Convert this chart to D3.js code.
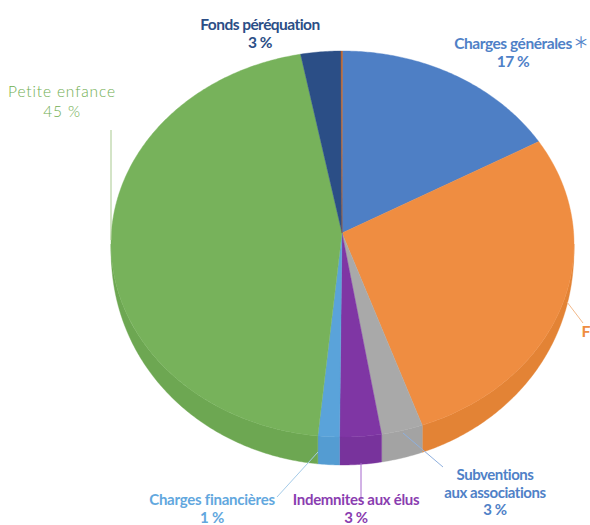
<!DOCTYPE html>
<html><head><meta charset="utf-8">
<script src="https://cdn.jsdelivr.net/npm/d3@7"></script>
<style>html,body{margin:0;padding:0;background:#fff;overflow:hidden}svg{display:block}</style>
</head><body><svg id="c" width="590" height="525"></svg>
<script>
// Data
const categories = ["Charges générales","Frais","Subventions aux associations","Indemnites aux élus","Charges financières","Petite enfance","Fonds péréquation","Autre"];
const shares = [16.1,28.3,2.9,2.9,1.5,45.4,2.8,0.1];
const faceColors = ["#4e7fc5","#ef8d41","#a9a9a9","#7f36a4","#5aa3da","#77b25b","#2b4e86","#b8602a"];
const sideColors = ["#4474b6","#e38335","#a3a3a3","#78339c","#549cd2","#6da752","#264676","#9c4f20"];

const labels = [
  {lines:["Charges générales","17 %"],x:513,y:[49,67],color:"#4f81c7",size:15.5,weight:700,ls:-.45},
  {lines:["Fonds péréquation","3 %"],x:260,y:[30,48],color:"#2b4e86",size:15.5,weight:700,ls:-.55},
  {lines:["Petite enfance","45 %"],x:62,y:[97,117],color:"#6fae50",size:15.5,weight:300,ls:.85},
  {lines:["Subventions","aux associations","3 %"],x:495,y:[480,498,515],color:"#4f81c7",size:15,weight:700,ls:-.45},
  {lines:["Charges financières","1 %"],x:212,y:[504.5,522.5],color:"#62a7de",size:15,weight:700,ls:-.25},
  {lines:["Indemnites aux élus","3 %"],x:356,y:[504.5,522.5],color:"#8a3db0",size:15,weight:700,ls:-.3},
  {lines:["F"],x:586,y:[337],color:"#ef8d41",size:16,weight:700,ls:0}
];
const leaders = [
  {p:[[111,130],[111,240]],color:"#a8c98f"},
  {p:[[318,452],[277,497]],color:"#a5cbe8"},
  {p:[[361,463],[361,502]],color:"#a566cc"},
  {p:[[403,433],[443,467]],color:"#8fb0de"},
  {p:[[567,302],[583,323]],color:"#f3b98a"}
];

const depth = 28, apex = {x:342, y:233};
const sx = d3.scaleLinear().domain([-1,1]).range([111,574]);
const sy = d3.scaleLinear().domain([-1,1]).range([51,437]);
const rim = (t,dy=0)=>[sx(Math.sin(t)), sy(-Math.cos(t))+dy];
const wall = t=>depth*Math.sqrt(Math.max(0,-Math.cos(t)));

const arcs = d3.pie().sort(null).value(d=>d)(shares);
const svg = d3.select("#c");
const line = d3.line();
const samples = (a,b)=>{const n=Math.max(2,Math.ceil((b-a)/0.01));return d3.range(n+1).map(i=>a+(b-a)*i/n);};

// side wall (front half of the rim only)
arcs.forEach((d,i)=>{
  const a=Math.max(d.startAngle,Math.PI/2), b=Math.min(d.endAngle,3*Math.PI/2);
  if(b<=a) return;
  const ts=samples(a,b);
  const pts=ts.map(t=>rim(t)).concat(ts.slice().reverse().map(t=>rim(t,wall(t))));
  svg.append("path").attr("d",line(pts)+"Z").attr("fill",sideColors[i]).attr("stroke",sideColors[i]).attr("stroke-width",.4);
});
// top face
arcs.forEach((d,i)=>{
  const pts=[[apex.x,apex.y]].concat(samples(d.startAngle,d.endAngle).map(t=>rim(t)));
  svg.append("path").attr("d",line(pts)+"Z").attr("fill",faceColors[i]).attr("stroke",faceColors[i]).attr("stroke-width",.4);
});
// leaders
leaders.forEach(l=>svg.append("path").attr("d",line(l.p)).attr("fill","none").attr("stroke",l.color).attr("stroke-width",1));
// labels
labels.forEach(l=>{
  l.lines.forEach((s,k)=>{
    svg.append("text").attr("x",l.x).attr("y",l.y[k]).attr("text-anchor","middle")
      .attr("font-family","Lato, 'Open Sans', sans-serif").attr("font-size",l.size).attr("font-weight",l.weight)
      .attr("letter-spacing",l.ls).attr("fill",l.color).text(s);
  });
});
svg.append("text").attr("x",581).attr("y",66).attr("text-anchor","middle")
  .attr("font-family","Lato, sans-serif").attr("font-size",40).attr("font-weight",300).attr("fill","#4f81c7").text("*");
</script></body></html>
